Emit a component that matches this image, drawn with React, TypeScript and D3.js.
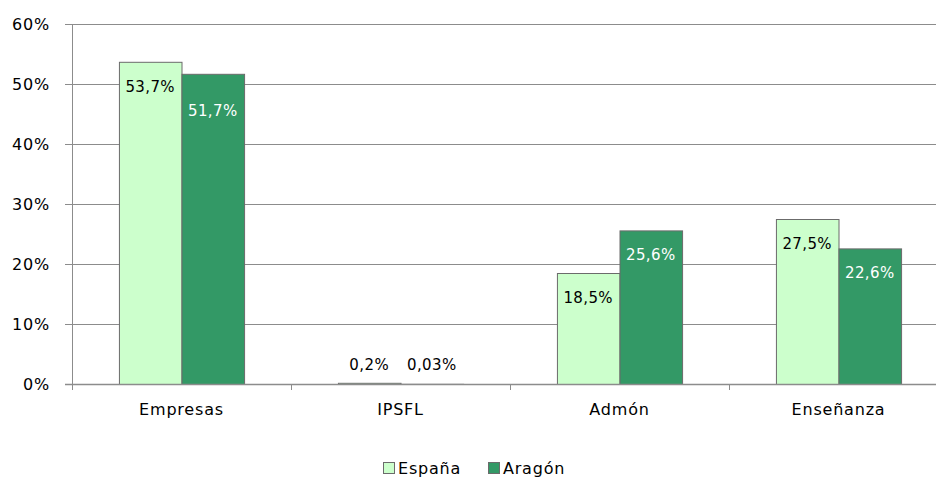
import { useEffect, useRef } from 'react'
import * as d3 from 'd3'

const categories = ['Empresas', 'IPSFL', 'Admón', 'Enseñanza']
const seriesNames = ['España', 'Aragón']
const espana = [53.7, 0.2, 18.5, 27.5]
const aragon = [51.7, 0.03, 25.6, 22.6]
const valueLabels = [
  ['53,7%', '0,2%', '18,5%', '27,5%'],
  ['51,7%', '0,03%', '25,6%', '22,6%'],
]
const yTicks = [0, 10, 20, 30, 40, 50, 60]

const colors = ['#CCFFCC', '#339966']
const labelColors = ['#000000', '#ffffff']

export default function App() {
  const svgRef = useRef<SVGSVGElement>(null)

  useEffect(() => {
    if (!svgRef.current) return
    const svg = d3.select(svgRef.current)
    svg.selectAll('*').remove()

    const width = 936
    const height = 478
    const font = '"DejaVu Sans", Verdana, sans-serif'
    const left = 72
    const right = 948
    const top = 24
    const bottom = 384

    const x = d3.scaleBand().domain(categories).range([left, right]).padding(0)
    const sub = d3.scaleBand().domain(seriesNames).range([0, x.bandwidth()]).paddingInner(0).paddingOuter(0.75)
    const y = d3.scaleLinear().domain([0, 60]).range([bottom, top])

    svg.attr('width', width).attr('height', height)

    // grid lines
    svg.append('g')
      .selectAll('line')
      .data(yTicks.filter(t => t > 0))
      .enter()
      .append('line')
      .attr('x1', left - 7)
      .attr('x2', width)
      .attr('y1', d => y(d) + 0.5)
      .attr('y2', d => y(d) + 0.5)
      .attr('stroke', '#8c8c8c')
      .attr('stroke-width', 1)

    // y axis line
    svg.append('line')
      .attr('x1', left + 0.5).attr('x2', left + 0.5)
      .attr('y1', top).attr('y2', bottom + 6)
      .attr('stroke', '#8c8c8c')

    // y tick labels
    svg.append('g')
      .selectAll('text')
      .data(yTicks)
      .enter()
      .append('text')
      .attr('x', 50)
      .attr('y', d => y(d))
      .attr('dy', '0.36em')
      .attr('text-anchor', 'end')
      .style('font-family', font)
      .style('font-size', '16px')
      .style('letter-spacing', '0.8px')
      .style('fill', '#000')
      .text(d => `${d}%`)

    // bars
    const series = [espana, aragon]
    series.forEach((vals, si) => {
      svg.append('g')
        .selectAll('rect')
        .data(vals)
        .enter()
        .append('rect')
        .attr('x', (d, i) => (x(categories[i]) || 0) + (sub(seriesNames[si]) || 0) + 0.5)
        .attr('y', d => y(d) + 0.5)
        .attr('width', sub.bandwidth())
        .attr('height', d => Math.max(0, bottom - y(d)))
        .attr('fill', colors[si])
        .attr('stroke', '#6b6b6b')
        .attr('stroke-width', 1)
    })

    // x axis line and ticks
    svg.append('line')
      .attr('x1', left - 7).attr('x2', width)
      .attr('y1', bottom + 0.5).attr('y2', bottom + 0.5)
      .attr('stroke', '#8c8c8c')
      .attr('stroke-width', 1.5)
    svg.append('g')
      .selectAll('line')
      .data(categories)
      .enter()
      .append('line')
      .attr('x1', d => (x(d) || 0) + 0.5)
      .attr('x2', d => (x(d) || 0) + 0.5)
      .attr('y1', bottom)
      .attr('y2', bottom + 6)
      .attr('stroke', '#8c8c8c')

    // category labels
    svg.append('g')
      .selectAll('text')
      .data(categories)
      .enter()
      .append('text')
      .attr('x', d => (x(d) || 0) + x.bandwidth() / 2)
      .attr('y', 415)
      .attr('text-anchor', 'middle')
      .style('font-family', font)
      .style('font-size', '16px')
      .style('letter-spacing', '0.8px')
      .style('fill', '#000')
      .text(d => d)

    // value labels
    series.forEach((vals, si) => {
      svg.append('g')
        .selectAll('text')
        .data(vals)
        .enter()
        .append('text')
        .attr('x', (d, i) => (x(categories[i]) || 0) + (sub(seriesNames[si]) || 0) + sub.bandwidth() / 2)
        .attr('y', (d, i) => {
          if (d < 2) return bottom - 14
          if (i === 0 && si === 1) return y(d) + 42
          return y(d) + 30
        })
        .attr('text-anchor', 'middle')
        .style('font-family', font)
        .style('font-size', '15px')
        .style('letter-spacing', '0.4px')
        .style('fill', d => (d < 2 ? '#000' : labelColors[si]))
        .text((d, i) => valueLabels[si][i])
    })

    // legend
    const legend = svg.append('g').attr('transform', 'translate(383,462)')
    const legendX = [0, 105]
    seriesNames.forEach((name, si) => {
      const g = legend.append('g').attr('transform', `translate(${legendX[si]},0)`)
      g.append('rect')
        .attr('x', 0.5).attr('y', 0.5)
        .attr('width', 11).attr('height', 11)
        .attr('fill', colors[si])
        .attr('stroke', '#6b6b6b')
      g.append('text')
        .attr('x', 15)
        .attr('y', 12)
        .style('font-family', font)
        .style('font-size', '16px')
        .style('letter-spacing', '0.8px')
        .style('fill', '#000')
        .text(name)
    })
  }, [])

  return <svg ref={svgRef} style={{ display: 'block', position: 'absolute', left: 0, top: 0 }} />
}
